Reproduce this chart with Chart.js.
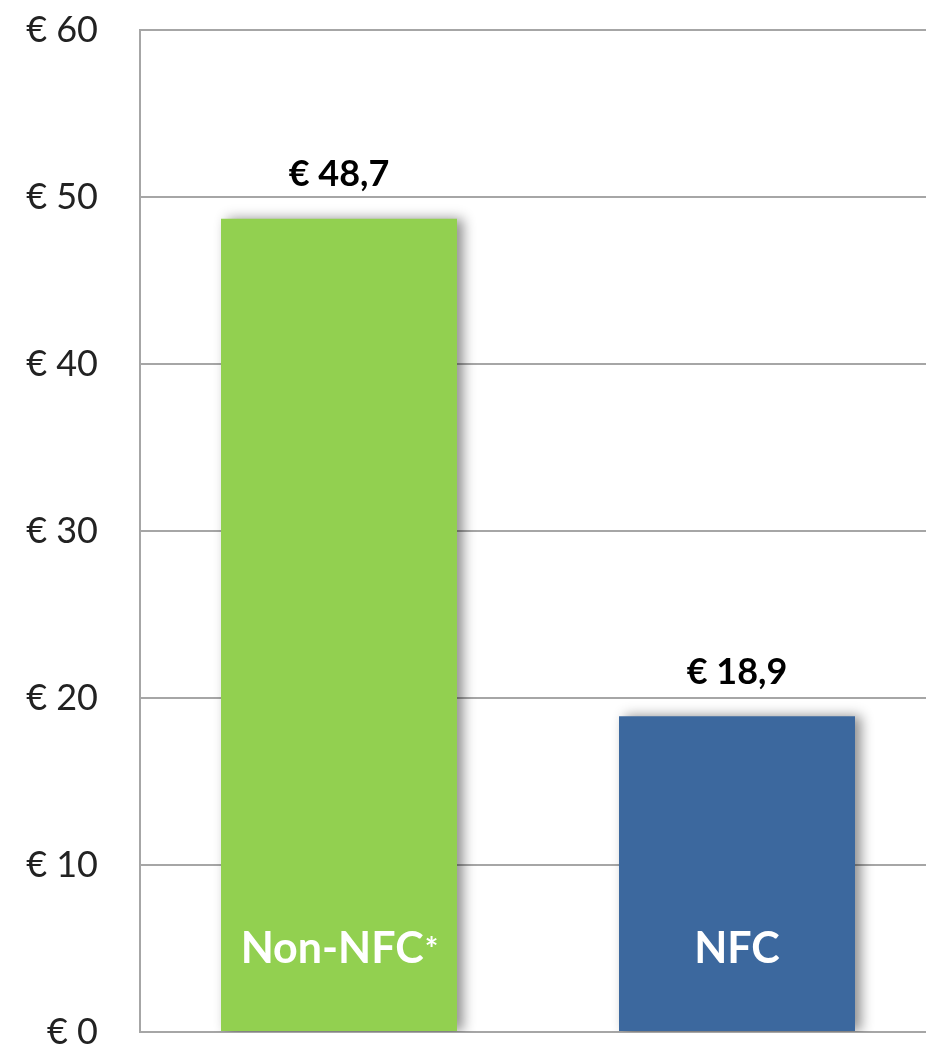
<!DOCTYPE html>
<html>
<head>
<meta charset="utf-8">
<script src="https://cdn.jsdelivr.net/npm/chart.js@4.4.1/dist/chart.umd.min.js"></script>
<style>
  html, body { margin: 0; padding: 0; background: #fff; }
  #wrap { width: 926px; height: 1050px; overflow: hidden; position: relative; }
  #box { width: 940px; height: 1050px; }
</style>
</head>
<body>
<div id="wrap"><div id="box"><canvas id="grafik"></canvas></div></div>
<script>
// data
const categories = ["Non-NFC", "NFC"];
const categoryMarks = ["*", ""];
const values = [48.7, 18.9];
const valueLabels = ["€ 48,7", "€ 18,9"];
const barColors = ["#92d050", "#3c689e"];
const yMin = 0, yMax = 60, yStep = 10;

const FONT = "Lato, 'Open Sans', sans-serif";

// shadow behind the bars
const barShadow = {
  id: "barShadow",
  beforeDatasetsDraw(chart) {
    const ctx = chart.ctx;
    ctx.save();
    ctx.shadowColor = "rgba(0,0,0,0.45)";
    ctx.shadowBlur = 12;
    ctx.shadowOffsetX = 6;
    ctx.shadowOffsetY = 0;
  },
  afterDatasetsDraw(chart) {
    chart.ctx.restore();
  }
};

// value labels above + category names inside the bars
const barLabels = {
  id: "barLabels",
  afterDraw(chart) {
    const ctx = chart.ctx;
    const meta = chart.getDatasetMeta(0);
    ctx.save();
    meta.data.forEach((bar, i) => {
      // value on top
      ctx.fillStyle = "#000";
      ctx.font = "bold 36px " + FONT;
      ctx.textAlign = "center";
      ctx.textBaseline = "middle";
      ctx.fillText(valueLabels[i], bar.x, bar.y - 44);

      // category inside bar
      const yText = bar.base - 82;
      ctx.fillStyle = "#fff";
      ctx.font = "bold 43px " + FONT;
      const w = ctx.measureText(categories[i]).width;
      ctx.font = "bold 32px " + FONT;
      const wm = categoryMarks[i] ? ctx.measureText(categoryMarks[i]).width : 0;
      const x0 = bar.x - (w + wm) / 2;
      ctx.textAlign = "left";
      ctx.font = "bold 43px " + FONT;
      ctx.fillText(categories[i], x0, yText);
      if (categoryMarks[i]) {
        ctx.font = "bold 32px " + FONT;
        ctx.fillText(categoryMarks[i], x0 + w + 1, yText + 2);
      }
    });
    ctx.restore();
  }
};

const ctx = document.getElementById("grafik").getContext("2d");
new Chart(ctx, {
  type: "bar",
  data: {
    labels: categories,
    datasets: [{
      data: values,
      backgroundColor: barColors,
      borderWidth: 0,
      barPercentage: 0.593,
      categoryPercentage: 1.0
    }]
  },
  options: {
    responsive: true,
    maintainAspectRatio: false,
    animation: false,
    layout: { padding: { top: 30, right: 4, bottom: 18, left: 0 } },
    plugins: { legend: { display: false }, tooltip: { enabled: false } },
    scales: {
      x: { display: false },
      y: {
        min: yMin,
        max: yMax,
        afterFit: (scale) => {
          scale.width = 140;
          scale.paddingTop = 0;
          scale.paddingBottom = 0;
        },
        ticks: {
          stepSize: yStep,
          padding: 42,
          color: "#222",
          font: { family: FONT, size: 36, lineHeight: 1 },
          callback: (v) => "€ " + v
        },
        grid: { color: "#a6a6a6", lineWidth: 2, drawTicks: false },
        border: { display: true, color: "#a6a6a6", width: 2 }
      }
    }
  },
  plugins: [barShadow, barLabels]
});
</script>
</body>
</html>
